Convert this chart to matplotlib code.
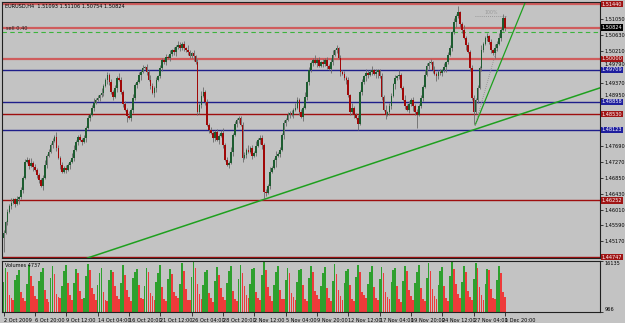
import matplotlib
matplotlib.use("Agg")
import matplotlib.pyplot as plt
import matplotlib.transforms as mtransforms
import numpy as np

# ---- data (EURUSD H4, 2 Oct - 1 Dec 2009) ----
title_txt = "EURUSD,H4  1.51093 1.51106 1.50754 1.50824"
first_open = 1.4525
closes = [
    1.4540, 1.4568, 1.4595, 1.4611, 1.4619, 1.4628, 1.4617, 1.4628, 1.4633, 1.4654,
    1.4685, 1.4728, 1.4733, 1.4717, 1.4725, 1.4714, 1.4707, 1.4693, 1.4680, 1.4664,
    1.4685, 1.4720, 1.4744, 1.4754, 1.4772, 1.4783, 1.4793, 1.4764, 1.4738, 1.4720,
    1.4701, 1.4712, 1.4707, 1.4720, 1.4728, 1.4738, 1.4759, 1.4780, 1.4793, 1.4786,
    1.4780, 1.4791, 1.4817, 1.4844, 1.4852, 1.4870, 1.4883, 1.4891, 1.4896, 1.4904,
    1.4910, 1.4928, 1.4944, 1.4957, 1.4939, 1.4912, 1.4899, 1.4923, 1.4949, 1.4944,
    1.4912, 1.4880, 1.4865, 1.4849, 1.4844, 1.4865, 1.4896, 1.4931, 1.4939, 1.4957,
    1.4965, 1.4976, 1.4978, 1.4965, 1.4944, 1.4928, 1.4910, 1.4923, 1.4944, 1.4954,
    1.4976, 1.4997, 1.4991, 1.5005, 1.5002, 1.5012, 1.5023, 1.5018, 1.5031, 1.5036,
    1.5028, 1.5039, 1.5028, 1.5023, 1.5018, 1.5007, 1.5015, 1.5007, 1.4991, 1.4859,
    1.4878, 1.4902, 1.4912, 1.4886, 1.4825, 1.4812, 1.4804, 1.4791, 1.4807, 1.4786,
    1.4796, 1.4804, 1.4772, 1.4733, 1.4720, 1.4725, 1.4754, 1.4799, 1.4828, 1.4839,
    1.4844, 1.4825, 1.4738, 1.4746, 1.4759, 1.4754, 1.4764, 1.4743, 1.4751, 1.4770,
    1.4786, 1.4791, 1.4772, 1.4648, 1.4646, 1.4664, 1.4701, 1.4712, 1.4733, 1.4743,
    1.4749, 1.4759, 1.4799, 1.4831, 1.4839, 1.4852, 1.4857, 1.4852, 1.4865, 1.4870,
    1.4891, 1.4859, 1.4846, 1.4870, 1.4899, 1.4938, 1.4970, 1.4989, 1.4997, 1.4989,
    1.4997, 1.4981, 1.4991, 1.4986, 1.4997, 1.4981, 1.4973, 1.4991, 1.5010, 1.5023,
    1.5028, 1.5002, 1.4965, 1.4960, 1.4949, 1.4944, 1.4904, 1.4859, 1.4870, 1.4852,
    1.4844, 1.4828, 1.4912, 1.4938, 1.4954, 1.4962, 1.4957, 1.4965, 1.4970, 1.4960,
    1.4965, 1.4970, 1.4954, 1.4899, 1.4865, 1.4852, 1.4859, 1.4875, 1.4902, 1.4933,
    1.4949, 1.4954, 1.4957, 1.4923, 1.4891, 1.4875, 1.4865, 1.4880, 1.4891, 1.4875,
    1.4859, 1.4852, 1.4875, 1.4896, 1.4926, 1.4957, 1.4981, 1.4989, 1.4991, 1.4970,
    1.4960, 1.4954, 1.4965, 1.4962, 1.4970, 1.4978, 1.4991, 1.5010, 1.5028, 1.5070,
    1.5097, 1.5113, 1.5123, 1.5092, 1.5076, 1.5055, 1.5036, 1.5018, 1.4976, 1.4896,
    1.4859, 1.4891, 1.4923, 1.4976, 1.5023, 1.5039, 1.5055, 1.5060, 1.5044, 1.5023,
    1.5015, 1.5028, 1.5039, 1.5055, 1.5076, 1.5109, 1.5082,
]
# wick lengths above/below the body, one digit per bar (units of wick_unit)
wick_unit = 0.0004
hi_wick = """
212131 121212 213121 112312 121321 212113 311212 121231 213112 121213
212131 311212 121321 212112 131213 212131 121213 312121 121231 213121
112213 121312 212131 131212 121213 212131 211312 121213 312121 212131
121213 213121 121312 212131 131212 121213 212131 121312 213141 131212
212131 121213 23121
"""
lo_wick = """
912121 213121 121312 213121 121213 112131 212121 312121 121213 212131
121412 212131 121213 311212 121231 212121 131212 121213 213121 121312
213121 121213 352121 151213 212121 121312 212131 121213 212131 131212
141213 212134 121312 213121 121213 291121 121213 212131 121312 213121
812121 121213 21212
"""
# tick volume per bar, in hundreds
volumes = [
    98, 140, 128, 60, 52, 45, 106, 120, 135, 70, 50, 42,
    92, 150, 118, 88, 58, 48, 102, 128, 140, 76, 47, 40,
    112, 145, 122, 64, 55, 50, 88, 132, 148, 95, 60, 44,
    95, 138, 126, 72, 48, 52, 118, 152, 135, 80, 62, 46,
    90, 125, 142, 68, 45, 41, 104, 136, 130, 86, 57, 49,
    96, 148, 120, 74, 53, 43, 110, 130, 138, 90, 50, 47,
    86, 142, 128, 66, 58, 45, 100, 126, 150, 84, 49, 42,
    108, 139, 124, 70, 56, 51, 94, 155, 132, 78, 46, 44,
    114, 160, 140, 92, 63, 48, 89, 128, 136, 65, 52, 40,
    102, 144, 121, 82, 55, 46, 97, 131, 145, 73, 48, 43,
    108, 150, 127, 88, 60, 50, 93, 137, 141, 69, 51, 45,
    120, 158, 134, 85, 57, 42, 90, 129, 147, 76, 49, 47,
    105, 141, 125, 67, 54, 44, 99, 134, 139, 89, 47, 41,
    111, 147, 130, 72, 59, 49, 87, 127, 144, 80, 50, 43,
    103, 152, 122, 75, 56, 46, 96, 133, 137, 91, 48, 42,
    115, 149, 128, 70, 61, 51, 92, 130, 146, 83, 52, 44,
    107, 143, 126, 68, 55, 47, 98, 136, 140, 87, 49, 40,
    101, 145, 131, 74, 58, 45, 95, 128, 149, 81, 47, 43,
    112, 154, 133, 77, 57, 48, 91, 131, 143, 86, 50, 42,
    117, 161, 138, 93, 64, 52, 100, 147, 129, 71, 53, 46,
    109, 155, 142, 84, 59, 44, 94, 138, 135, 78, 51, 47,
    106, 146, 127, 69, 54,
]
vol_label = "Volumes 4737"
vol_top, vol_bottom = 16135, 966

date_step = 16
date_labels = ["2 Oct 2009", "6 Oct 20:00", "9 Oct 12:00", "14 Oct 04:00", "16 Oct 20:00",
               "21 Oct 12:00", "26 Oct 04:00", "28 Oct 20:00", "2 Nov 12:00", "5 Nov 04:00",
               "9 Nov 20:00", "12 Nov 12:00", "17 Nov 04:00", "19 Nov 20:00", "24 Nov 12:00",
               "27 Nov 04:00", "1 Dec 20:00"]

# horizontal levels drawn on the chart
levels = [1.51440, 1.50824, 1.50000, 1.49709, 1.48858, 1.48530, 1.48123, 1.46252, 1.44747]
level_style = ["soft", "soft", "soft", "blue", "blue", "red", "blue", "red", "red"]
box_style = ["red", "black", "red", "blue", "blue", "red", "blue", "red", "red"]
order_price = 1.5071
order_text = "sell 0.40"

# trend lines: (bar, price) anchors
trend_long = [(133, 1.4628), (240, 1.4812)]
trend_steep = [(240.8, 1.4825), (266.8, 1.5155)]
fibo_low = (240.8, 1.4825)
fibo_high = (256.6, 1.5113)

# ---- colours ----
BG = "#c3c3c3"
FS = 3.6
line_col = {"soft": "#cf5c5c", "blue": "#1e1e8a", "red": "#9e0e0e"}
line_w = {"soft": 1.6, "blue": 1.0, "red": 1.0}
box_col = {"red": "#a01414", "black": "#000000", "blue": "#1e1e9e"}

closes = np.array(closes)
n = len(closes)
x = np.arange(n)
opens = np.concatenate([[first_open], closes[:-1]])
hi_ext = np.array([int(c) for c in "".join(hi_wick.split())]) * wick_unit
lo_ext = np.array([int(c) for c in "".join(lo_wick.split())]) * wick_unit
highs = np.maximum(opens, closes) + hi_ext
lows = np.minimum(opens, closes) - lo_ext
vols = np.array(volumes) * 100.0

fig = plt.figure(figsize=(6.25, 3.23), dpi=100, facecolor=BG)
ax = fig.add_axes([2 / 625, 65 / 323, 598 / 625, 256 / 323], facecolor=BG)
axv = fig.add_axes([2 / 625, 11 / 323, 598 / 625, 51 / 323], facecolor=BG, sharex=ax)

xmax = 304.5
ax.set_xlim(-0.8, xmax)
ax.set_ylim(1.4473, 1.5150)

# horizontal levels + price boxes on the right
blend = mtransforms.blended_transform_factory(ax.transAxes, ax.transData)
for lv, st, bs in zip(levels, level_style, box_style):
    ax.axhline(lv, color=line_col[st], lw=line_w[st], zorder=1)
    ax.text(1.003, lv, f"{lv:.5f}", transform=blend, fontsize=FS, color="white",
            va="center", ha="left", zorder=10, clip_on=False,
            bbox=dict(boxstyle="square,pad=0.12", fc=box_col[bs], ec="none"))

# order line
ax.axhline(order_price, color="#3cb43c", lw=0.8, ls=(0, (4, 3)), zorder=1)
ax.text(0.006, order_price + 0.0001, order_text, transform=blend, fontsize=FS,
        color="#202020", va="bottom", ha="left")

# trend lines
ax.axline(trend_long[0], trend_long[1], color="#1ea01e", lw=1.1, zorder=2)
(x0, y0), (x1, y1) = trend_steep
slope = (y1 - y0) / (x1 - x0)
ax.plot([x0, xmax], [y0, y0 + slope * (xmax - x0)], color="#1ea01e", lw=0.9, zorder=2)

# fibo leftovers
ax.plot([fibo_low[0], fibo_high[0]], [fibo_low[1], fibo_high[1]], color="#8c8c8c",
        lw=0.6, ls=(0, (1, 1.5)), zorder=2)
ax.plot([fibo_low[0], fibo_high[0]], [fibo_high[1], fibo_high[1]], color="#8c8c8c",
        lw=0.6, ls=(0, (1, 1.5)), zorder=2)
ax.text(fibo_low[0] + 8, fibo_high[1] + 0.0002, "100%", fontsize=3.4, color="#9a9a9a",
        va="bottom", ha="center")

# candles
up = closes >= opens
ax.vlines(x, lows, highs, color="#6a6a6a", lw=0.6, zorder=3)
ax.bar(x[up], closes[up] - opens[up], bottom=opens[up], width=0.85,
       color="#1d5c30", lw=0, zorder=4)
ax.bar(x[~up], closes[~up] - opens[~up], bottom=opens[~up], width=0.85,
       color="#a00808", lw=0, zorder=4)

ax.text(0.005, 0.992, title_txt, transform=ax.transAxes, fontsize=FS,
        color="black", va="top", ha="left")

# price axis ticks (the ones hidden under a price box are left out,
# the ones just above a box are nudged up off it)
ax.yaxis.tick_right()
yt = np.arange(1.44750, 1.5150, 0.0042)
yt = [v for v in yt if min(abs(v - lv) for lv in levels) > 0.0006]
ax.set_yticks(yt)
ax.set_yticklabels([f"{v:.5f}" for v in yt], fontsize=FS)
for v, lab in zip(yt, ax.get_yticklabels()):
    if min(abs(v - lv) for lv in levels) < 0.0012:
        lab.set_va("bottom")
ax.tick_params(axis="y", length=2, width=0.5, pad=1.2, colors="black")
ax.tick_params(axis="x", bottom=False, labelbottom=False)

# volumes
vcol = ["#2ea02e"] + ["#2ea02e" if vols[i] > vols[i - 1] else "#ee3a3a" for i in range(1, n)]
axv.bar(x, vols - vol_bottom, bottom=vol_bottom, width=0.9, color=vcol, lw=0)
axv.set_ylim(vol_bottom, vol_top)
axv.yaxis.tick_right()
axv.set_yticks([vol_top, vol_bottom])
axv.set_yticklabels([str(vol_top), str(vol_bottom)], fontsize=FS)
axv.get_yticklabels()[0].set_va("top")
axv.get_yticklabels()[1].set_va("bottom")
axv.tick_params(axis="y", length=2, width=0.5, pad=1.2)
axv.text(0.005, 0.97, vol_label, transform=axv.transAxes, fontsize=FS,
         color="black", va="top", ha="left")

pos = np.arange(len(date_labels)) * date_step
axv.set_xticks(pos)
axv.set_xticklabels(date_labels, fontsize=FS, ha="left")
axv.tick_params(axis="x", length=3, width=0.5, pad=1)

for a in (ax, axv):
    for s in a.spines.values():
        s.set_color("#202020")
        s.set_linewidth(0.8)

fig.savefig("out.png", dpi=100, facecolor=BG)
